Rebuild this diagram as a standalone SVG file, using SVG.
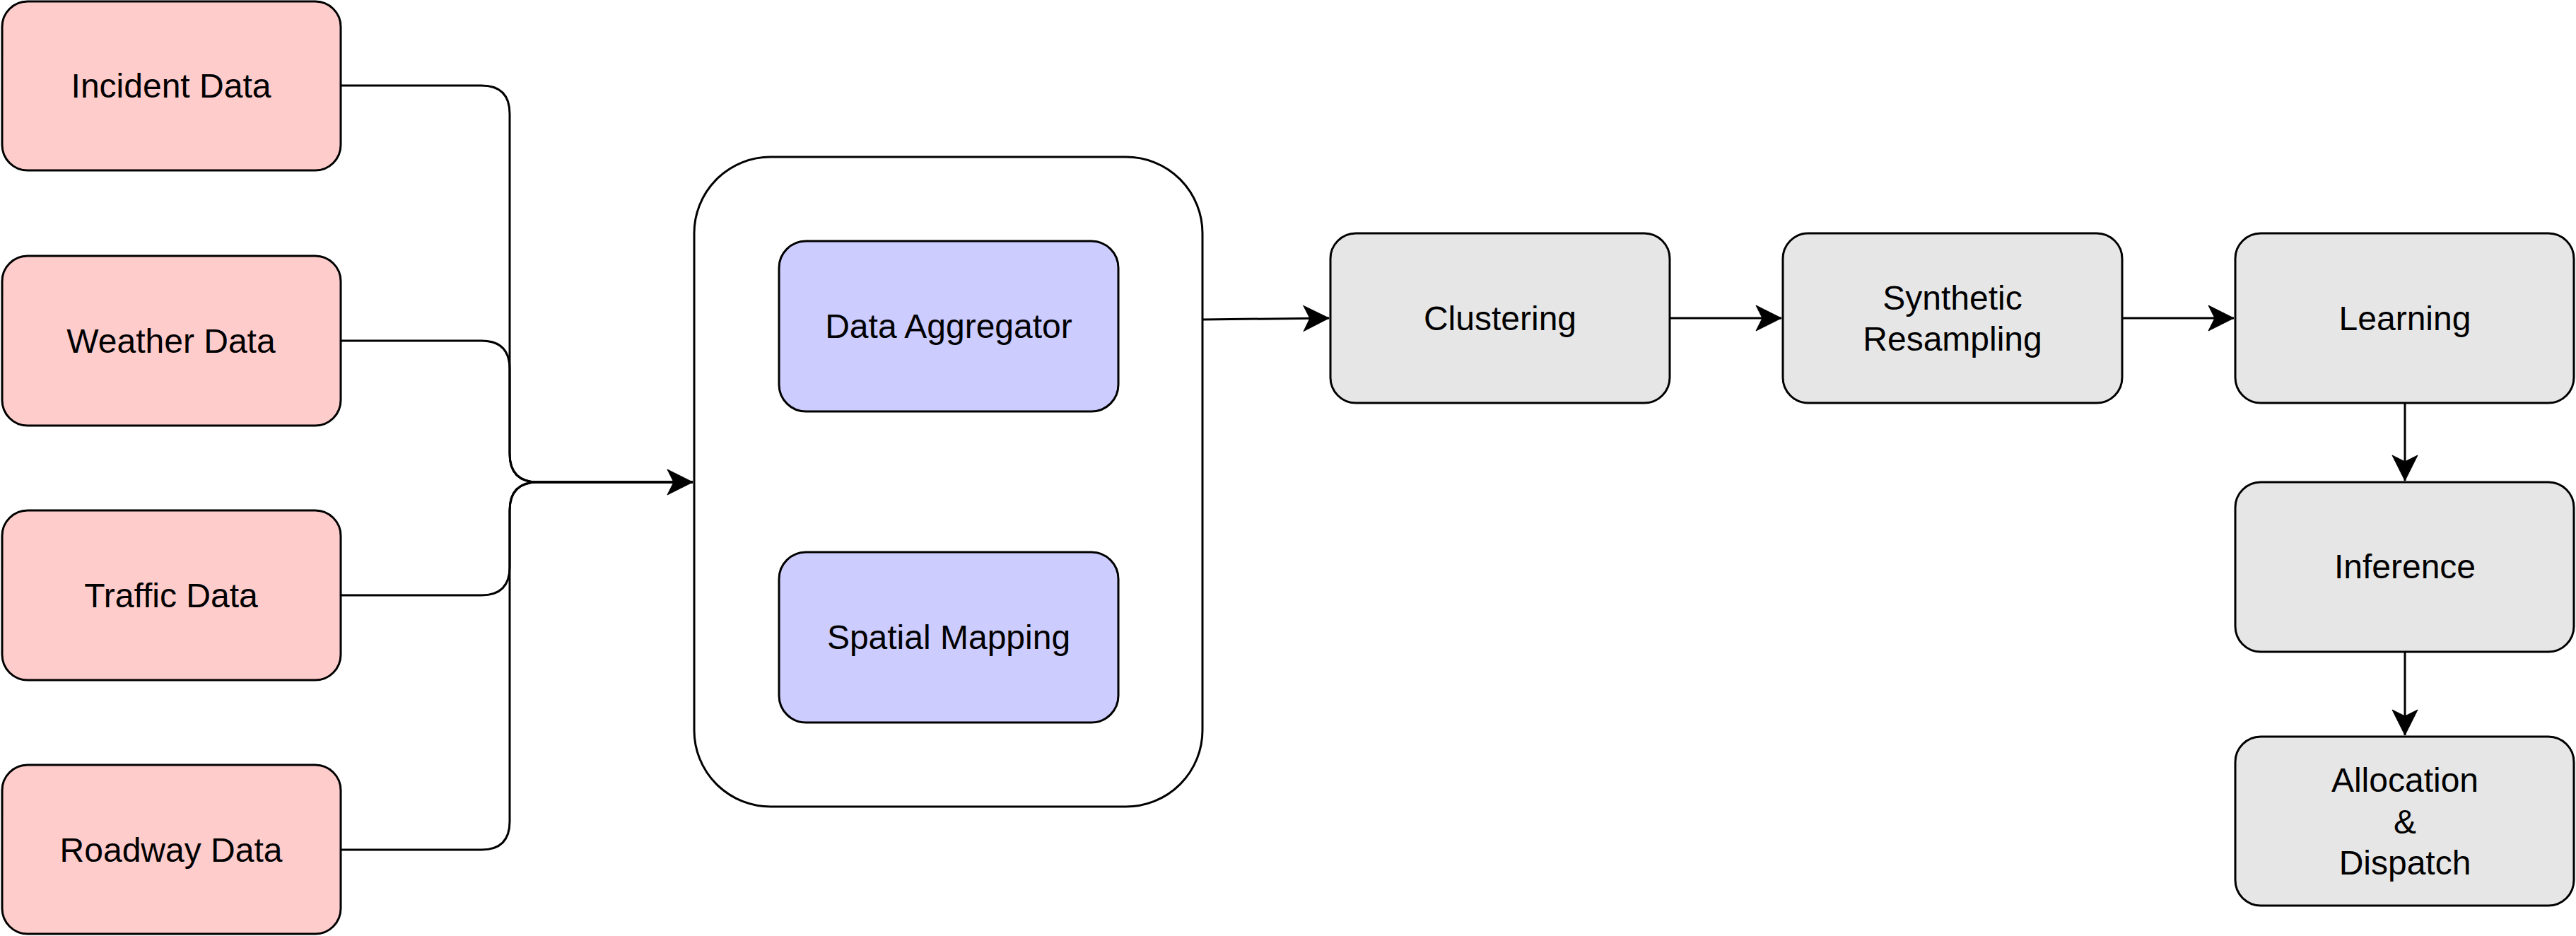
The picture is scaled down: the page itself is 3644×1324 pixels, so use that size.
<svg xmlns="http://www.w3.org/2000/svg" width="3644" height="1324" viewBox="0 0 3644 1324">
<style>
.box{stroke:#000;stroke-width:3}
.src{fill:#FFCCCC}
.sub{fill:#CCCCFF}
.stage{fill:#E6E6E6}
.cont{fill:#FFFFFF}
.lbl{font-family:"Liberation Sans",Arial,Helvetica,sans-serif;font-size:48px;fill:#000;text-anchor:middle}
.edge{fill:none;stroke:#000;stroke-width:3}
</style>
<defs>
<marker id="arr" markerUnits="userSpaceOnUse" markerWidth="40" markerHeight="40" viewBox="-2 -20 40 40" refX="36" refY="0" orient="auto">
<path d="M0,-18 L36,0 L0,18 L9,0 Z" fill="#000" stroke="#000" stroke-width="1"/>
</marker>
</defs>
<rect width="3644" height="1324" fill="#FFFFFF"/>
<g id="connectors">
<path class="edge" d="M482,121 H681 Q721,121 721,161 V642 Q721,682 761,682 H980" marker-end="url(#arr)"/>
<path class="edge" d="M482,482 H681 Q721,482 721,522 V642 Q721,682 761,682 H980"/>
<path class="edge" d="M482,842 H681 Q721,842 721,802 V722 Q721,682 761,682 H980"/>
<path class="edge" d="M482,1202 H681 Q721,1202 721,1162 V722 Q721,682 761,682 H980"/>
<path class="edge" d="M1702,452 L1880,450" marker-end="url(#arr)"/>
<path class="edge" d="M2362,450 H2520" marker-end="url(#arr)"/>
<path class="edge" d="M3002,450 H3160" marker-end="url(#arr)"/>
<path class="edge" d="M3402,570 V680" marker-end="url(#arr)"/>
<path class="edge" d="M3402,921 V1040" marker-end="url(#arr)"/>
</g>
<g id="incident"><rect class="box src" x="3" y="2" width="479" height="239" rx="36"/><text class="lbl" x="242" y="138">Incident Data</text></g>
<g id="weather"><rect class="box src" x="3" y="362" width="479" height="240" rx="36"/><text class="lbl" x="242" y="499">Weather Data</text></g>
<g id="traffic"><rect class="box src" x="3" y="722" width="479" height="240" rx="36"/><text class="lbl" x="242" y="859">Traffic Data</text></g>
<g id="roadway"><rect class="box src" x="3" y="1082" width="479" height="239" rx="36"/><text class="lbl" x="242" y="1219">Roadway Data</text></g>
<g id="processing"><rect class="box cont" x="982" y="222" width="719" height="919" rx="108"/></g>
<g id="aggregator"><rect class="box sub" x="1102" y="341" width="480" height="241" rx="38"/><text class="lbl" x="1342" y="478">Data Aggregator</text></g>
<g id="spatial"><rect class="box sub" x="1102" y="781" width="480" height="241" rx="38"/><text class="lbl" x="1342" y="918">Spatial Mapping</text></g>
<g id="clustering"><rect class="box stage" x="1882" y="330" width="480" height="240" rx="36"/><text class="lbl" x="2122" y="467">Clustering</text></g>
<g id="resampling"><rect class="box stage" x="2522" y="330" width="480" height="240" rx="36"/><text class="lbl" x="2762" y="438">Synthetic</text><text class="lbl" x="2762" y="496">Resampling</text></g>
<g id="learning"><rect class="box stage" x="3162" y="330" width="479" height="240" rx="36"/><text class="lbl" x="3402" y="467">Learning</text></g>
<g id="inference"><rect class="box stage" x="3162" y="682" width="479" height="240" rx="36"/><text class="lbl" x="3402" y="818">Inference</text></g>
<g id="allocation"><rect class="box stage" x="3162" y="1042" width="479" height="239" rx="36"/><text class="lbl" x="3402" y="1120">Allocation</text><text class="lbl" x="3402" y="1179">&amp;</text><text class="lbl" x="3402" y="1237">Dispatch</text></g>
</svg>
